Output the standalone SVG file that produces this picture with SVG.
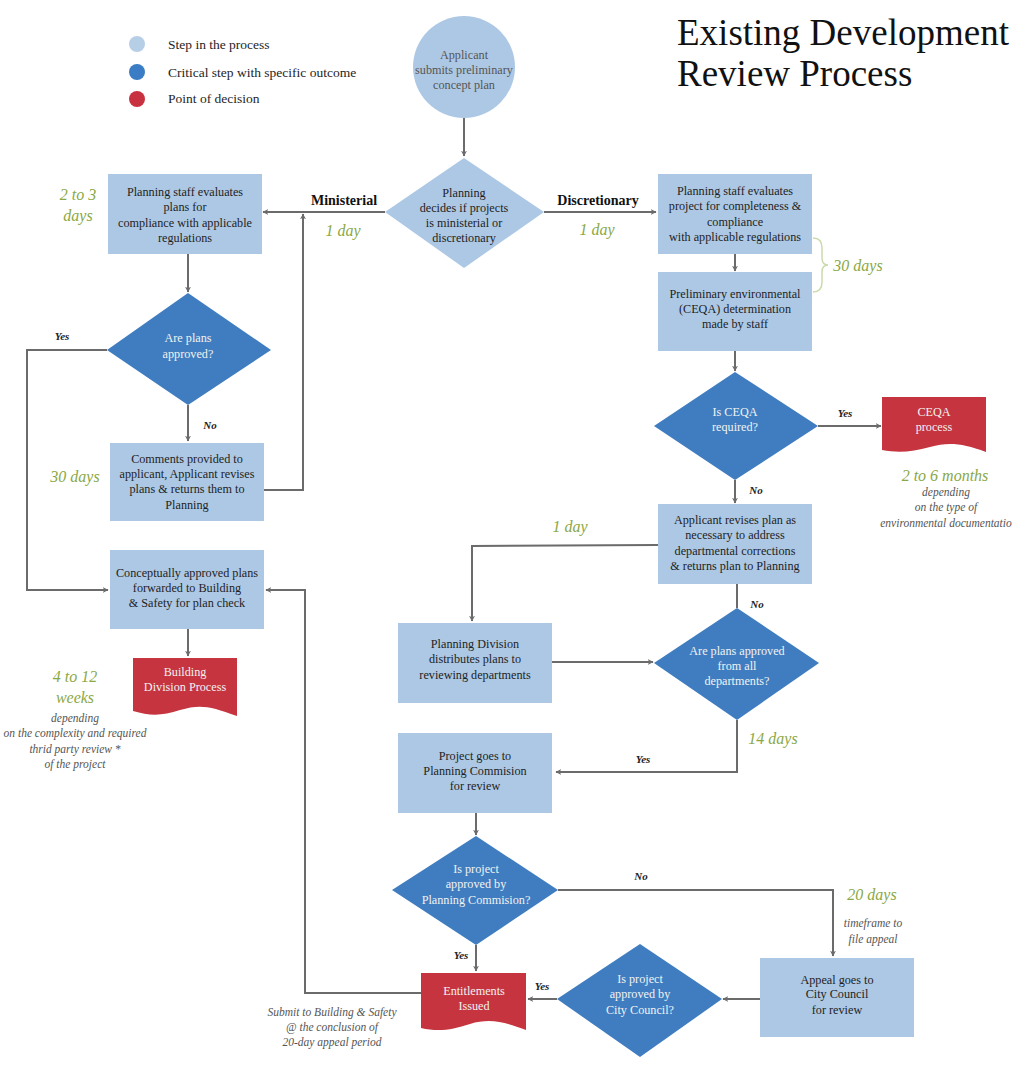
<svg xmlns="http://www.w3.org/2000/svg" width="1024" height="1066" viewBox="0 0 1024 1066" font-family="'Liberation Serif','DejaVu Serif',serif">
<style>
text{font-family:"Liberation Serif","DejaVu Serif",serif;}
.bx{fill:#adc8e4;}
.dm{fill:#3f7dc0;}
.rd{fill:#c5343f;}
.t{font-size:12.2px;fill:#1e1e1e;text-anchor:middle;}
.tw{font-size:12.2px;fill:#f2f2f2;text-anchor:middle;}
.g{font-size:16px;fill:#8aa845;font-style:italic;text-anchor:middle;}
.gr{font-size:11.5px;fill:#555;font-style:italic;text-anchor:middle;}
.yn{font-size:11px;fill:#1e1e1e;font-style:italic;font-weight:bold;text-anchor:middle;}
.lb{font-size:14px;fill:#111;font-weight:bold;text-anchor:middle;}
.lg{font-size:13.5px;fill:#1e1e1e;}
.c{fill:none;stroke:#6b6b6b;stroke-width:2;}
</style>
<defs>
<marker id="ah" viewBox="0 0 10 10" refX="9" refY="5" markerWidth="6" markerHeight="6" orient="auto" markerUnits="userSpaceOnUse">
<path d="M0,0 L10,5 L0,10 L3,5 z" fill="#6b6b6b"/>
</marker>
</defs>
<rect width="1024" height="1066" fill="#ffffff"/>

<g id="legend">
<circle cx="137" cy="44" r="8" fill="#b6cfe6"/>
<circle cx="137" cy="72" r="8" fill="#3b7dc4"/>
<circle cx="137" cy="99" r="8" fill="#c8313f"/>
<text class="lg" x="168" y="49">Step in the process</text>
<text class="lg" x="168" y="77">Critical step with specific outcome</text>
<text class="lg" x="168" y="103">Point of decision</text>
</g>

<g id="title">
<text x="677" y="45" font-size="37" fill="#111">Existing Development</text>
<text x="677" y="86" font-size="37" fill="#111">Review Process</text>
</g>

<g id="connectors">
<line class="c" x1="464" y1="118" x2="464" y2="156" marker-end="url(#ah)"/>
<line class="c" x1="385" y1="212" x2="263" y2="212" marker-end="url(#ah)"/>
<line class="c" x1="544" y1="212" x2="656" y2="212" marker-end="url(#ah)"/>
<line class="c" x1="188" y1="254" x2="188" y2="292" marker-end="url(#ah)"/>
<polyline class="c" points="107,350 27,350 27,590 108,590" marker-end="url(#ah)"/>
<line class="c" x1="188" y1="405" x2="188" y2="441" marker-end="url(#ah)"/>
<polyline class="c" points="264,490 303,490 303,214" marker-end="url(#ah)"/>
<line class="c" x1="188" y1="629" x2="188" y2="656" marker-end="url(#ah)"/>
<polyline class="c" points="421,993 305,993 305,590 266,590" marker-end="url(#ah)"/>
<line class="c" x1="735" y1="254" x2="735" y2="271" marker-end="url(#ah)"/>
<line class="c" x1="735" y1="351" x2="735" y2="371" marker-end="url(#ah)"/>
<line class="c" x1="818" y1="426" x2="881" y2="426" marker-end="url(#ah)"/>
<line class="c" x1="735" y1="480" x2="735" y2="503" marker-end="url(#ah)"/>
<polyline class="c" points="658,545 472,546 472,621" marker-end="url(#ah)"/>
<line class="c" x1="737" y1="584" x2="737" y2="608"/>
<line class="c" x1="552" y1="662" x2="653" y2="662" marker-end="url(#ah)"/>
<polyline class="c" points="737,720 737,772 556,772" marker-end="url(#ah)"/>
<line class="c" x1="476" y1="813" x2="476" y2="835" marker-end="url(#ah)"/>
<polyline class="c" points="558,890 833,890 833,956" marker-end="url(#ah)"/>
<line class="c" x1="476" y1="945" x2="476" y2="971" marker-end="url(#ah)"/>
<line class="c" x1="760" y1="999" x2="723" y2="999" marker-end="url(#ah)"/>
<line class="c" x1="557" y1="999" x2="528" y2="999" marker-end="url(#ah)"/>
<path d="M813,238 Q822,238 822,248 L822,258 Q822,265 828,265 Q822,265 822,272 L822,282 Q822,292 813,292" fill="none" stroke="#c9dbaa" stroke-width="1.5"/>
</g>

<g id="labels">
<text class="lb" x="344" y="205">Ministerial</text>
<text class="lb" x="598" y="205">Discretionary</text>
<text class="g" x="343" y="236">1 day</text>
<text class="g" x="597" y="235">1 day</text>
<text class="g" x="78" y="200">2 to 3</text>
<text class="g" x="78" y="221">days</text>
<text class="g" x="75" y="482">30 days</text>
<text class="g" x="858" y="271">30 days</text>
<text class="yn" x="62" y="340">Yes</text>
<text class="yn" x="210" y="429">No</text>
<text class="yn" x="845" y="417">Yes</text>
<text class="yn" x="756" y="494">No</text>
<text class="yn" x="757" y="608">No</text>
<text class="g" x="570" y="532">1 day</text>
<text class="g" x="773" y="744">14 days</text>
<text class="yn" x="643" y="763">Yes</text>
<text class="yn" x="641" y="880">No</text>
<text class="yn" x="461" y="959">Yes</text>
<text class="yn" x="542" y="990">Yes</text>
<text class="g" x="872" y="900">20 days</text>
<text class="gr" x="873" y="927">timeframe to</text>
<text class="gr" x="873" y="943">file appeal</text>
<text class="g" x="75" y="682">4 to 12</text>
<text class="g" x="75" y="703">weeks</text>
<text class="gr" x="75" y="722">depending</text>
<text class="gr" x="75" y="737">on the complexity and required</text>
<text class="gr" x="75" y="753">thrid party review *</text>
<text class="gr" x="75" y="768">of the project</text>
<text class="g" x="945" y="481">2 to 6 months</text>
<text class="gr" x="946" y="496">depending</text>
<text class="gr" x="946" y="511">on the type of</text>
<text class="gr" x="946" y="527">environmental documentatio</text>
<text class="gr" x="332" y="1016">Submit to Building &amp; Safety</text>
<text class="gr" x="332" y="1031">@ the conclusion of</text>
<text class="gr" x="332" y="1046">20-day appeal period</text>
</g>

<g id="n-start">
<circle class="bx" cx="464" cy="67" r="51"/>
<text class="t" x="464" y="59" style="fill:#555">Applicant</text>
<text class="t" x="464" y="74" style="fill:#555">submits preliminary</text>
<text class="t" x="464" y="89" style="fill:#555">concept plan</text>
</g>

<g id="n-decide">
<polygon class="bx" points="464,158 544,212 464,268 385,212"/>
<text class="t" x="464" y="197">Planning</text>
<text class="t" x="464" y="212">decides if projects</text>
<text class="t" x="464" y="227">is ministerial or</text>
<text class="t" x="464" y="242">discretionary</text>
</g>

<g id="n-staff-min">
<rect class="bx" x="108" y="174" width="154" height="80"/>
<text class="t" x="185" y="196">Planning staff evaluates</text>
<text class="t" x="185" y="211">plans for</text>
<text class="t" x="185" y="227">compliance with applicable</text>
<text class="t" x="185" y="242">regulations</text>
</g>

<g id="n-approved">
<polygon class="dm" points="188,293 271,350 188,405 107,350"/>
<text class="tw" x="188" y="342">Are plans</text>
<text class="tw" x="188" y="358">approved?</text>
</g>

<g id="n-comments">
<rect class="bx" x="110" y="443" width="154" height="78"/>
<text class="t" x="187" y="463">Comments provided to</text>
<text class="t" x="187" y="478">applicant, Applicant revises</text>
<text class="t" x="187" y="493">plans &amp; returns them to</text>
<text class="t" x="187" y="509">Planning</text>
</g>

<g id="n-forward">
<rect class="bx" x="110" y="550" width="154" height="79"/>
<text class="t" x="187" y="577">Conceptually approved plans</text>
<text class="t" x="187" y="592">forwarded to Building</text>
<text class="t" x="187" y="607">&amp; Safety for plan check</text>
</g>

<g id="n-building">
<path class="rd" d="M133,658 H237 V716 C210,706 200,704 180,710 C162,716 150,716 133,711 Z"/>
<text class="tw" x="185" y="676">Building</text>
<text class="tw" x="185" y="691">Division Process</text>
</g>

<g id="n-staff-disc">
<rect class="bx" x="658" y="174" width="154" height="80"/>
<text class="t" x="735" y="195">Planning staff evaluates</text>
<text class="t" x="735" y="210">project for completeness &amp;</text>
<text class="t" x="735" y="226">compliance</text>
<text class="t" x="735" y="241">with applicable regulations</text>
</g>

<g id="n-ceqa-det">
<rect class="bx" x="658" y="272" width="154" height="79"/>
<text class="t" x="735" y="298">Preliminary environmental</text>
<text class="t" x="735" y="313">(CEQA) determination</text>
<text class="t" x="735" y="328">made by staff</text>
</g>

<g id="n-ceqa-q">
<polygon class="dm" points="735,372 818,426 735,480 654,426"/>
<text class="tw" x="735" y="416">Is CEQA</text>
<text class="tw" x="735" y="431">required?</text>
</g>

<g id="n-ceqa-proc">
<path class="rd" d="M882,397 H986 V452 C962,443 948,442 930,447 C912,452 898,453 882,450 Z"/>
<text class="tw" x="934" y="416">CEQA</text>
<text class="tw" x="934" y="431">process</text>
</g>

<g id="n-revise">
<rect class="bx" x="658" y="504" width="154" height="80"/>
<text class="t" x="735" y="524">Applicant revises plan as</text>
<text class="t" x="735" y="539">necessary to address</text>
<text class="t" x="735" y="555">departmental corrections</text>
<text class="t" x="735" y="570">&amp; returns plan to Planning</text>
</g>

<g id="n-distribute">
<rect class="bx" x="398" y="623" width="154" height="80"/>
<text class="t" x="475" y="648">Planning Division</text>
<text class="t" x="475" y="663">distributes plans to</text>
<text class="t" x="475" y="679">reviewing departments</text>
</g>

<g id="n-dept-q">
<polygon class="dm" points="737,608 819,663 737,720 654,663"/>
<text class="tw" x="737" y="655">Are plans approved</text>
<text class="tw" x="737" y="670">from all</text>
<text class="tw" x="737" y="685">departments?</text>
</g>

<g id="n-commission">
<rect class="bx" x="398" y="733" width="154" height="80"/>
<text class="t" x="475" y="760">Project goes to</text>
<text class="t" x="475" y="775">Planning Commision</text>
<text class="t" x="475" y="790">for review</text>
</g>

<g id="n-pc-q">
<polygon class="dm" points="476,836 558,890 476,945 392,890"/>
<text class="tw" x="476" y="873">Is project</text>
<text class="tw" x="476" y="888">approved by</text>
<text class="tw" x="476" y="904">Planning Commision?</text>
</g>

<g id="n-entitlements">
<path class="rd" d="M421,973 H526 V1030 C505,1022 490,1018 470,1024 C452,1030 438,1032 421,1028 Z"/>
<text class="tw" x="474" y="995">Entitlements</text>
<text class="tw" x="474" y="1010">Issued</text>
</g>

<g id="n-cc-q">
<polygon class="dm" points="640,944 722,999 640,1057 557,999"/>
<text class="tw" x="640" y="983">Is project</text>
<text class="tw" x="640" y="998">approved by</text>
<text class="tw" x="640" y="1014">City Council?</text>
</g>

<g id="n-appeal">
<rect class="bx" x="760" y="958" width="154" height="79"/>
<text class="t" x="837" y="984">Appeal goes to</text>
<text class="t" x="837" y="998">City Council</text>
<text class="t" x="837" y="1014">for review</text>
</g>
</svg>
